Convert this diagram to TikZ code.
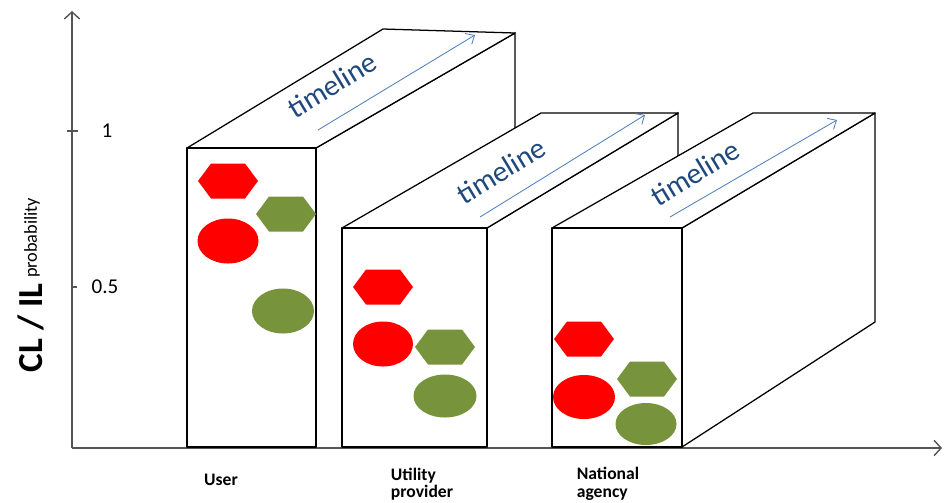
\documentclass[tikz,border=0pt]{standalone}
\usepackage{fontspec}
\setmainfont{Carlito}
\usetikzlibrary{arrows.meta}
\definecolor{cred}{HTML}{FF0000}
\definecolor{cgreen}{HTML}{77933C}
\definecolor{cnavy}{HTML}{1F497D}
\definecolor{csky}{HTML}{4F81BD}
\definecolor{caxis}{HTML}{555555}
\tikzset{
  every picture/.style={line width=0.9pt},
  face/.style={draw=black, fill=white, line join=round},
  axis/.style={draw=caxis, line width=1pt, -{Straight Barb[length=5pt, width=11pt]}},
  tick/.style={draw=caxis, line width=0.8pt},
  timeline/.style={text=cnavy, font=\fontsize{21}{24}\selectfont, rotate=31, inner sep=0pt},
  flow/.style={draw=csky, line width=0.6pt, -{Straight Barb[length=5pt, width=9pt]}},
  who/.style={font=\bfseries\fontsize{12.5}{12.5}\selectfont, align=left},
  hexa/.pic={\fill[#1] (-30,0) -- (-17,-17.5) -- (17,-17.5) -- (30,0) -- (17,17.5) -- (-17,17.5) -- cycle;},
}

\begin{document}
\begin{tikzpicture}[x=0.025cm, y=-0.025cm]
  \useasboundingbox (0,0) rectangle (944,502);
  % axes
  \coordinate (origin) at (72,448);
  \coordinate (ytip) at (72,11);
  \coordinate (xtip) at (942,448);
  \draw[axis] (origin) -- (ytip);
  \draw[axis] (origin) -- (xtip);
  \draw[tick] (67,131) -- (78,131);
  \draw[tick] (72,287) -- (77,287);
  \node (one) at (107,131) {\fontsize{15}{15}\selectfont 1};
  \node (half) at (105,287) {\fontsize{15}{15}\selectfont 0.5};
  \node[rotate=90] (ylab) at (31,285)
    {{\fontsize{25}{25}\selectfont\bfseries CL / IL}\hspace{4pt}\raisebox{4pt}{\fontsize{13}{13}\selectfont probability}};

  % user
  \fill[white] (316,148) -- (515,33) -- (515,332) -- (316,447) -- cycle;
  \draw (316,148) -- (515,33) -- (515,332);
  \draw[face] (187,148) -- (383,29) -- (515,33) -- (316,148) -- cycle;
  \draw[face] (187,148) rectangle (316,447);
  \node[timeline] (time1) at (332,85) {timeline};
  \coordinate (a1) at (318,130);
  \coordinate (b1) at (475,35);
  \draw[flow] (a1) -- (b1);
  \pic at (228,181) {hexa=cred};
  \pic at (286,214) {hexa=cgreen};
  \fill[cred] (228,241) ellipse (30.5 and 22.5);
  \fill[cgreen] (283,311) ellipse (31 and 22.5);

  % utility provider
  \fill[white] (487,228) -- (678,113) -- (678,332) -- (487,447) -- cycle;
  \draw (487,228) -- (678,113) -- (678,332);
  \draw[face] (342,228) -- (541,113) -- (678,113) -- (487,228) -- cycle;
  \draw[face] (342,228) rectangle (487,447);
  \node[timeline] (time2) at (501,171) {timeline};
  \coordinate (a2) at (480,217);
  \coordinate (b2) at (645,115);
  \draw[flow] (a2) -- (b2);
  \pic at (383,287) {hexa=cred};
  \pic at (445,347) {hexa=cgreen};
  \fill[cred] (383,344) ellipse (30 and 22.5);
  \fill[cgreen] (445,396) ellipse (31.5 and 21.5);

  % national agency
  \draw[face] (682,228) -- (875,113) -- (875,322) -- (682,447) -- cycle;
  \draw[face] (552,228) -- (753,113) -- (875,113) -- (682,228) -- cycle;
  \draw[face] (552,228) rectangle (682,447);
  \node[timeline] (time3) at (695,173) {timeline};
  \coordinate (a3) at (670,217);
  \coordinate (b3) at (837,120);
  \draw[flow] (a3) -- (b3);
  \pic at (584,339) {hexa=cred};
  \pic at (647,379) {hexa=cgreen};
  \fill[cred] (584,397) ellipse (31 and 22);
  \fill[cgreen] (646,424) ellipse (30.5 and 21);

  % categories
  \node[who] (user) at (221,480) {User};
  \node[who] (util) at (422,484) {Utility\\provider};
  \node[who] (agency) at (608,484) {National\\agency};
\end{tikzpicture}
\end{document}
